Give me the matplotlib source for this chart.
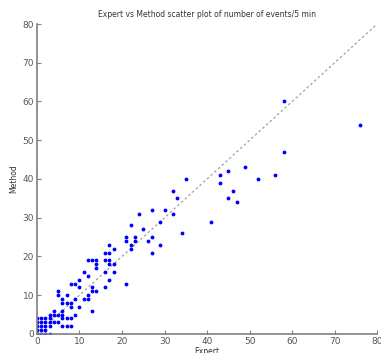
import matplotlib
matplotlib.use('Agg')
import matplotlib.pyplot as plt

# expert counts (x) and method counts (y) per 5 min window
expert = [0, 1, 2, 3,
          0, 1, 2,
          0, 1, 2, 3, 6, 7, 8,
          0, 1, 2, 3, 4, 5,
          0, 1, 2, 3, 6, 7, 8,
          3, 4, 5, 6, 9,
          4, 6, 13,
          8, 10,
          6, 7, 8,
          6, 9, 11, 12,
          5, 7, 12,
          5, 13, 14,
          10, 13, 16,
          8, 9, 21,
          10, 17,
          12,
          11, 16, 18,
          14,
          14, 17, 18,
          12, 13, 14, 16, 17,
          16, 17, 27,
          18, 22,
          17, 22, 29,
          21, 23, 26,
          21, 23, 27,
          25, 22, 29,
          24, 32, 27, 30,
          33, 32, 35, 34,
          76, 58, 49, 45, 43, 43, 52, 56, 46, 45, 47, 41, 58]
method = [0, 0, 0, 0,
          1, 1, 1,
          2, 2, 2, 2, 2, 2, 2,
          3, 3, 3, 3, 3, 3,
          4, 4, 4, 4, 4, 4, 4,
          5, 5, 5, 5, 5,
          6, 6, 6,
          7, 7,
          8, 8, 8,
          9, 9, 9, 9,
          10, 10, 10,
          11, 11, 11,
          12, 12, 12,
          13, 13, 13,
          14, 14,
          15,
          16, 16, 16,
          17,
          18, 18, 18,
          19, 19, 19, 19, 19,
          21, 21, 21,
          22, 22,
          23, 23, 23,
          24, 24, 24,
          25, 25, 25,
          27, 28, 29,
          31, 31, 32, 32,
          35, 37, 40, 26,
          54, 47, 43, 42, 41, 39, 40, 41, 37, 35, 34, 29, 60]

fig = plt.figure(figsize=(3.81, 3.53), dpi=100)
ax = fig.add_axes([0.097, 0.054, 0.893, 0.878])

ax.plot([0, 80], [0, 80], linestyle=(0, (2, 2)), color='#a0a0a0', linewidth=0.9)
ax.plot(expert, method, '.', color='#0000ff', markersize=3.5, linestyle='none')

ax.set_xlim(0, 80)
ax.set_ylim(0, 80)
ax.set_xticks(range(0, 81, 10))
ax.set_yticks(range(0, 81, 10))

for side in ['top', 'right']:
    ax.spines[side].set_visible(False)
for side in ['left', 'bottom']:
    ax.spines[side].set_color('#808080')
    ax.spines[side].set_linewidth(1.2)

ax.tick_params(direction='in', length=3, width=0.8, colors='#808080',
               labelsize=6.5, labelcolor='#555555', pad=2)

ax.set_title('Expert vs Method scatter plot of number of events/5 min',
             fontsize=5.5, color='#333333', pad=5)
ax.set_xlabel('Expert', fontsize=5.5, color='#333333', labelpad=1)
ax.set_ylabel('Method', fontsize=5.5, color='#333333', labelpad=3)

fig.savefig('out.png', dpi=100)
